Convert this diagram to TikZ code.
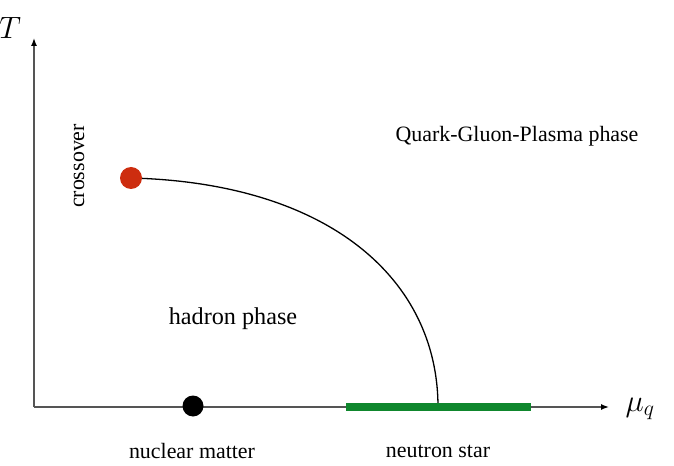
\RequirePackage{fix-cm}
\documentclass[tikz,border=0pt]{standalone}
\usepackage{fontspec}
\setmainfont{Liberation Serif}
\usetikzlibrary{arrows.meta}
\definecolor{dotred}{RGB}{205,45,15}
\definecolor{bargreen}{RGB}{15,135,45}
\definecolor{axisgray}{RGB}{85,85,85}
\begin{document}
\begin{tikzpicture}[x=1bp,y=-1bp,
  lbl/.style={font=\fontsize{22}{26}\selectfont, inner sep=0},
  axislbl/.style={font=\fontsize{31}{36}\selectfont, inner sep=0},
  axis/.style={axisgray, line width=1.4bp, -{Latex[length=8bp,width=6bp,color=black]}},
  phaseline/.style={black, line width=1.3bp},
  dot/.style={circle, inner sep=0, minimum size=22bp}]
\useasboundingbox (0,0) rectangle (674,466);
\coordinate (O) at (34,407);
\coordinate (Ttip) at (34,38);
\coordinate (Mtip) at (609,407);
\draw[axis] (O) -- (Ttip);
\draw[axis] (O) -- (Mtip);
\coordinate (cp) at (131,178);
\coordinate (ce) at (438,407);
\draw[phaseline] (cp) .. controls (330,183) and (438,280) .. (ce);
\coordinate (gs) at (346,407);
\coordinate (ge) at (531,407);
\draw[bargreen, line width=8bp] (gs) -- (ge);
\node[dot, fill=dotred] (cep) at (cp) {};
\node[dot, fill=black, minimum size=21bp] (nm) at (193,406) {};
\node[axislbl] (T) at (10,28) {$T$};
\node[axislbl] (mu) at (640,409) {$\mu_q$};
\node[lbl, rotate=90] (cross) at (79,166) {crossover};
\node[lbl] (qgp) at (517,136) {Quark-Gluon-Plasma phase};
\node[lbl, font=\fontsize{24.3}{28}\selectfont] (hadron) at (233,319) {hadron phase};
\node[lbl] (nuc) at (192,451) {nuclear matter};
\node[lbl] (ns) at (438,451) {neutron star};
\end{tikzpicture}
\end{document}
